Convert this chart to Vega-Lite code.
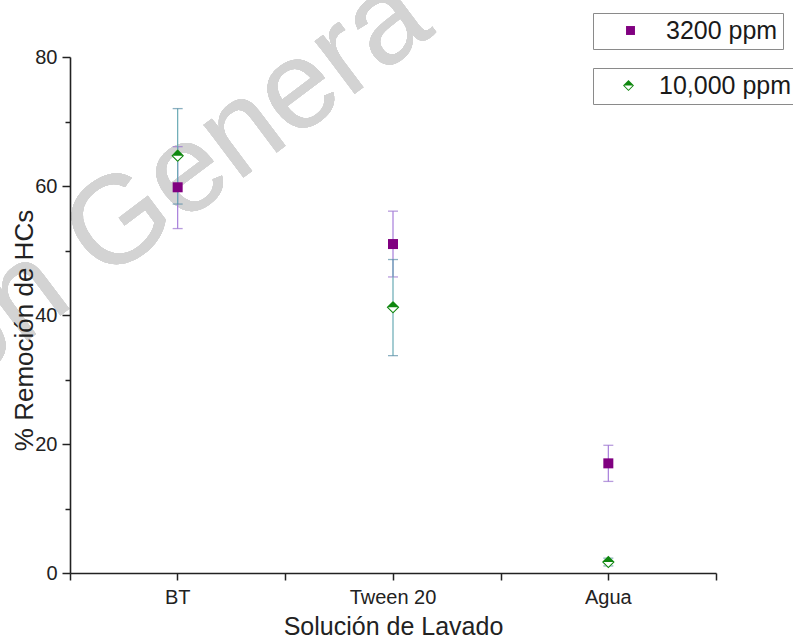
{
  "$schema": "https://vega.github.io/schema/vega-lite/v6.json",
  "width": 646,
  "height": 516,
  "autosize": "none",
  "padding": {"left": 70, "top": 57, "right": 77, "bottom": 69},
  "background": "#ffffff",
  "config": {"font": "Liberation Sans", "view": {"stroke": null}},
  "data": {
    "values": [
      {"solucion": "BT", "concentracion": "3200 ppm", "media": 59.8, "inferior": 53.4, "superior": 66.1},
      {"solucion": "Tween 20", "concentracion": "3200 ppm", "media": 51.0, "inferior": 45.9, "superior": 56.1},
      {"solucion": "Agua", "concentracion": "3200 ppm", "media": 17.0, "inferior": 14.2, "superior": 19.8},
      {"solucion": "BT", "concentracion": "10,000 ppm", "media": 64.7, "inferior": 57.2, "superior": 72.0},
      {"solucion": "Tween 20", "concentracion": "10,000 ppm", "media": 41.2, "inferior": 33.7, "superior": 48.6},
      {"solucion": "Agua", "concentracion": "10,000 ppm", "media": 1.7, "inferior": 1.1, "superior": 2.3}
    ]
  },
  "layer": [
    {
      "mark": {"type": "text", "font": "Liberation Sans", "fontSize": 125, "angle": -37, "fill": "#d3d3d3", "align": "center", "baseline": "middle"},
      "encoding": {
        "x": {"datum": "BT", "type": "nominal", "axis": null},
        "y": {
          "datum": 61, "type": "quantitative",
          "scale": {"domain": [0, 80], "nice": false, "zero": false},
          "axis": {
            "title": "% Remoción de HCs",
            "values": [0, 10, 20, 30, 40, 50, 60, 70, 80],
            "labelExpr": "datum.value % 20 === 0 ? datum.label : ''",
            "tickSize": {"condition": {"test": "datum.value % 20 === 0", "value": 8}, "value": 5},
            "tickWidth": 1.5, "tickColor": "#222222",
            "domainColor": "#222222", "domainWidth": 1.6, "grid": false,
            "labelFontSize": 20, "labelColor": "#222222", "labelPadding": 5,
            "titleFontSize": 26, "titleFontWeight": "normal", "titleColor": "#222222", "titlePadding": -3,
            "titleY": 273,
            "zindex": 1
          }
        },
        "text": {"value": "on Genera"}
      }
    },
    {
      "transform": [{"filter": "datum.concentracion === '3200 ppm'"}],
      "mark": {"type": "rule", "color": "#a77ddb", "strokeWidth": 1.2},
      "encoding": {
        "x": {
          "field": "solucion", "type": "nominal",
          "scale": {"type": "band", "domain": ["BT", "Tween 20", "Agua"], "paddingInner": 0, "paddingOuter": 0},
          "axis": {
            "orient": "bottom", "title": "Solución de Lavado", "labelAngle": 0,
            "tickSize": 7, "tickWidth": 1.5, "tickColor": "#222222",
            "domainColor": "#222222", "domainWidth": 1.6,
            "labelFontSize": 20, "labelColor": "#222222", "labelPadding": 7,
            "titleFontSize": 25, "titleFontWeight": "normal", "titleColor": "#222222", "titlePadding": 7,
            "zindex": 1
          }
        },
        "y": {"field": "inferior", "type": "quantitative"},
        "y2": {"field": "superior"}
      }
    },
    {
      "transform": [{"filter": "datum.concentracion === '3200 ppm'"}],
      "mark": {"type": "tick", "color": "#9a72cf", "thickness": 1.3, "size": 10},
      "encoding": {
        "x": {"field": "solucion", "type": "nominal", "axis": null},
        "y": {"field": "inferior", "type": "quantitative"}
      }
    },
    {
      "transform": [{"filter": "datum.concentracion === '3200 ppm'"}],
      "mark": {"type": "tick", "color": "#9a72cf", "thickness": 1.3, "size": 10},
      "encoding": {
        "x": {"field": "solucion", "type": "nominal", "axis": null},
        "y": {"field": "superior", "type": "quantitative"}
      }
    },
    {
      "transform": [{"filter": "datum.concentracion === '10,000 ppm'"}],
      "mark": {"type": "rule", "color": "#68aab4", "strokeWidth": 1.2},
      "encoding": {
        "x": {
          "field": "solucion", "type": "nominal",
          "axis": {
            "orient": "bottom", "title": null, "labels": false, "domain": false,
            "tickBand": "extent", "tickSize": 7, "tickWidth": 1.5, "tickColor": "#222222",
            "zindex": 1
          }
        },
        "y": {"field": "inferior", "type": "quantitative"},
        "y2": {"field": "superior"}
      }
    },
    {
      "transform": [{"filter": "datum.concentracion === '10,000 ppm'"}],
      "mark": {"type": "tick", "color": "#5b8ea6", "thickness": 1.3, "size": 10},
      "encoding": {
        "x": {"field": "solucion", "type": "nominal", "axis": null},
        "y": {"field": "inferior", "type": "quantitative"}
      }
    },
    {
      "transform": [{"filter": "datum.concentracion === '10,000 ppm'"}],
      "mark": {"type": "tick", "color": "#5b8ea6", "thickness": 1.3, "size": 10},
      "encoding": {
        "x": {"field": "solucion", "type": "nominal", "axis": null},
        "y": {"field": "superior", "type": "quantitative"}
      }
    },
    {
      "transform": [{"filter": "datum.concentracion === '10,000 ppm'"}],
      "mark": {"type": "point", "shape": "diamond", "filled": true, "fill": "#ffffff", "size": 160, "opacity": 1},
      "encoding": {
        "x": {"field": "solucion", "type": "nominal", "axis": null},
        "y": {"field": "media", "type": "quantitative"}
      }
    },
    {
      "transform": [{"filter": "datum.concentracion === '10,000 ppm'"}],
      "mark": {"type": "point", "filled": true, "size": 160, "opacity": 1},
      "encoding": {
        "x": {"field": "solucion", "type": "nominal", "axis": null},
        "y": {"field": "media", "type": "quantitative"},
        "color": {
          "field": "concentracion", "type": "nominal",
          "scale": {"domain": ["10,000 ppm"], "range": ["#0f870f"]},
          "legend": {
            "orient": "none", "legendX": 523, "legendY": 11, "title": null,
            "strokeColor": "#8a8a8a", "padding": 5,
            "labelFont": "Liberation Sans", "labelFontSize": 25, "labelColor": "#1a1a1a",
            "symbolSize": 120, "symbolOffset": 18, "labelOffset": 18
          }
        },
        "shape": {
          "field": "concentracion", "type": "nominal",
          "scale": {"domain": ["10,000 ppm"], "range": ["M -1 0 L 0 -1 L 1 0 L 0 1 Z M -0.76 0 L 0 0.76 L 0.76 0 Z"]},
          "legend": {
            "orient": "none", "legendX": 523, "legendY": 11, "title": null,
            "strokeColor": "#8a8a8a", "padding": 5,
            "labelFont": "Liberation Sans", "labelFontSize": 25, "labelColor": "#1a1a1a",
            "symbolSize": 120, "symbolOffset": 18, "labelOffset": 18
          }
        }
      }
    },
    {
      "transform": [{"filter": "datum.concentracion === '3200 ppm'"}],
      "mark": {"type": "point", "filled": true, "size": 100, "opacity": 1},
      "encoding": {
        "x": {"field": "solucion", "type": "nominal", "axis": null},
        "y": {"field": "media", "type": "quantitative"},
        "color": {
          "field": "concentracion", "type": "nominal",
          "scale": {"domain": ["3200 ppm"], "range": ["#800080"]},
          "legend": {
            "orient": "none", "legendX": 523, "legendY": -44, "title": null,
            "strokeColor": "#8a8a8a", "padding": 5,
            "labelFont": "Liberation Sans", "labelFontSize": 25, "labelColor": "#1a1a1a",
            "symbolSize": 80, "symbolOffset": 20, "labelOffset": 23
          }
        },
        "shape": {
          "field": "concentracion", "type": "nominal",
          "scale": {"domain": ["3200 ppm"], "range": ["square"]},
          "legend": {
            "orient": "none", "legendX": 523, "legendY": -44, "title": null,
            "strokeColor": "#8a8a8a", "padding": 5,
            "labelFont": "Liberation Sans", "labelFontSize": 25, "labelColor": "#1a1a1a",
            "symbolSize": 80, "symbolOffset": 20, "labelOffset": 23
          }
        }
      }
    }
  ],
  "resolve": {
    "scale": {"color": "independent", "shape": "independent"},
    "axis": {"x": "independent"}
  }
}
